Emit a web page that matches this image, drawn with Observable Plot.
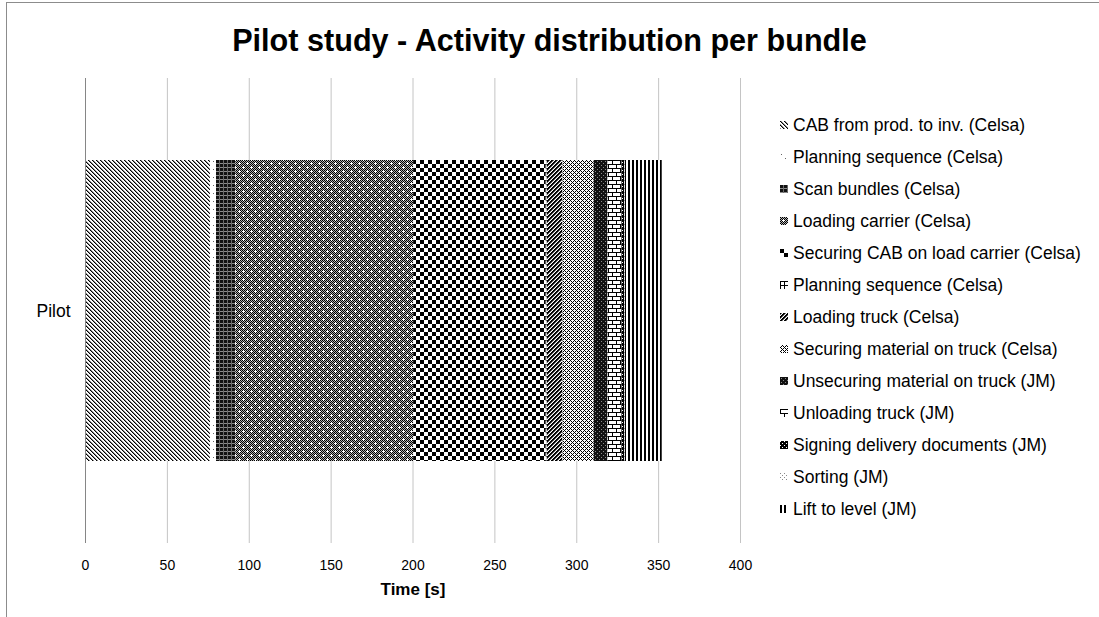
<!DOCTYPE html>
<html>
<head>
<meta charset="utf-8">
<script src="https://cdn.jsdelivr.net/npm/d3@7"></script>
<script src="https://cdn.jsdelivr.net/npm/@observablehq/plot@0.6"></script>
<style>
  html, body { margin: 0; padding: 0; background: #fff; }
  body { width: 1099px; height: 617px; overflow: hidden; position: relative;
         font-family: "Liberation Sans", Arial, sans-serif; color: #000; }
  #frame { position: absolute; left: 6px; top: 2px; width: 1200px; height: 700px;
           border-left: 1.5px solid #8c8c8c; border-top: 1.5px solid #8c8c8c; }
  #title { position: absolute; left: 0; width: 1099px; top: 22px; text-align: center;
           font-weight: bold; font-size: 30.6px; line-height: 36px; }
  #chart { position: absolute; left: 0; top: 60px; }
  #legend { position: absolute; left: 780px; top: 109px; }
  .item { height: 32px; display: flex; align-items: center; font-size: 17.5px; white-space: nowrap; }
  .item svg { margin-right: 5px; }
  #defs { position: absolute; width: 0; height: 0; }
</style>
</head>
<body>
<svg id="defs" width="0" height="0"></svg>
<div id="frame"></div>
<div id="title">Pilot study - Activity distribution per bundle</div>
<div id="chart"></div>
<div id="legend"></div>
<script>
// Activities of one bundle, in the order they happen
const groups = ["Pilot"];
const activities = [
  "CAB from prod. to inv. (Celsa)",
  "Planning sequence (Celsa)",
  "Scan bundles (Celsa)",
  "Loading carrier (Celsa)",
  "Securing CAB on load carrier (Celsa)",
  "Planning sequence (Celsa)",
  "Loading truck (Celsa)",
  "Securing material on truck (Celsa)",
  "Unsecuring material on truck (JM)",
  "Unloading truck (JM)",
  "Signing delivery documents (JM)",
  "Sorting (JM)",
  "Lift to level (JM)"
];
// Duration of each activity, seconds
const durations = [76.3, 3.7, 11.8, 108.6, 81.0, 0.6, 9.6, 19.1, 8.4, 8.5, 1.6, 0.5, 22.5];
const xTicks = [0, 50, 100, 150, 200, 250, 300, 350, 400];
const xTitle = "Time [s]";

// Monochrome hatch fills, one per activity (pixel tiles: [x, y, w, h, color])
const diag = (n, off, c) => d3.range(n).map(r => [(r + off) % n, r, 1, 1, c]);
const anti = (n, off, c) => d3.range(n).map(r => [(n - 1 - r + off) % n, r, 1, 1, c]);
const hatches = [
  {w: 4, h: 4, bg: "#fff", px: [...diag(4, 0, "#000"), ...diag(4, 1, "#8a8a8a")]},
  {w: 8, h: 8, bg: "#fff", px: [[1, 1, 1, 1, "#666"], [5, 5, 1, 1, "#666"]]},
  {w: 4, h: 4, bg: "#111", px: [[0, 3, 4, 1, "#8a8a8a"], [3, 0, 1, 4, "#6a6a6a"]]},
  {w: 8, h: 8, bg: ["#000", "#b0b0b0"], px: [[3, 2, 1, 3, "#fff"], [2, 3, 3, 1, "#fff"], [7, 6, 1, 2, "#fff"], [6, 7, 2, 1, "#fff"], [0, 7, 1, 1, "#fff"], [7, 0, 1, 1, "#fff"]]},
  {w: 8, h: 8, bg: "#fff", px: [[0, 0, 4, 4, "#000"], [4, 4, 4, 4, "#000"]]},
  {w: 4, h: 4, bg: "#fff", px: [[0, 0, 4, 1, "#000"], [0, 0, 1, 4, "#000"]]},
  {w: 4, h: 4, bg: "#fff", px: [...anti(4, 0, "#000"), ...anti(4, 1, "#000"), ...anti(4, 2, "#777")]},
  {w: 4, h: 4, bg: ["#000", "#fff"], px: [[0, 0, 1, 1, "#fff"], [2, 2, 1, 1, "#fff"]]},
  {w: 4, h: 4, bg: "#111", px: [[1, 1, 1, 1, "#888"], [3, 3, 1, 1, "#888"]]},
  {w: 8, h: 8, bg: "#fff", px: [[0, 0, 8, 1, "#000"], [0, 4, 8, 1, "#000"], [0, 0, 1, 4, "#000"], [4, 4, 1, 4, "#000"]]},
  {w: 4, h: 4, bg: "#000", px: [[0, 0, 1, 1, "#fff"], [2, 2, 1, 1, "#fff"]]},
  {w: 4, h: 4, bg: "#fff", px: [[0, 0, 1, 1, "#888"], [2, 2, 1, 1, "#888"]]},
  {w: 4, h: 1, bg: "#fff", px: [[0, 0, 2, 1, "#000"]]}
];

const defs = d3.select("#defs").append("defs");
hatches.forEach((h, i) => {
  const p = defs.append("pattern")
    .attr("id", "hatch" + i)
    .attr("patternUnits", "userSpaceOnUse")
    .attr("width", h.w).attr("height", h.h)
    .attr("shape-rendering", "crispEdges");
  if (Array.isArray(h.bg)) {
    // one-pixel checkerboard of two tones
    for (let y = 0; y < h.h; y++) for (let x = 0; x < h.w; x++)
      p.append("rect").attr("x", x).attr("y", y).attr("width", 1).attr("height", 1)
        .attr("fill", h.bg[(x + y) % 2]);
  } else {
    p.append("rect").attr("width", h.w).attr("height", h.h).attr("fill", h.bg);
  }
  h.px.forEach(([x, y, w, hh, c]) =>
    p.append("rect").attr("x", x).attr("y", y).attr("width", w).attr("height", hh).attr("fill", c));
});
const fillOf = i => `url(#hatch${i})`;

const rows = activities.map((a, i) => ({group: groups[0], activity: a, duration: durations[i], fill: fillOf(i)}));

const chart = Plot.plot({
  width: 760,
  height: 545,
  marginLeft: 85,
  marginRight: 20,
  marginTop: 18,
  marginBottom: 62,
  style: {fontFamily: "Liberation Sans, Arial, sans-serif", fontSize: "14px", color: "#000", background: "transparent"},
  x: {domain: [0, 400]},
  y: {domain: groups, padding: 0.214},
  color: {type: "identity"},
  marks: [
    Plot.ruleX(xTicks.slice(1), {stroke: "#c4c4c4", strokeWidth: 1}),
    Plot.barX(rows, Plot.stackX({x: "duration", y: "group", fill: "fill", order: null})),
    Plot.ruleX([0], {stroke: "#868686", strokeWidth: 1}),
    Plot.axisX({ticks: xTicks, tickSize: 0, tickPadding: 17, label: null, fontSize: 14}),
    Plot.axisY({tickSize: 0, tickPadding: 15, label: null, fontSize: 17.5}),
    Plot.text([xTitle], {frameAnchor: "bottom", dy: 51, fontWeight: "bold", fontSize: 17, fill: "#000"})
  ]
});
document.getElementById("chart").appendChild(chart);

// Legend: swatch + activity name, one row each
const legend = d3.select("#legend");
activities.forEach((a, i) => {
  const item = legend.append("div").attr("class", "item");
  item.append("svg").attr("width", 8).attr("height", 8)
    .append("rect").attr("width", 8).attr("height", 8).attr("fill", fillOf(i));
  item.append("span").text(a);
});
</script>
</body>
</html>
